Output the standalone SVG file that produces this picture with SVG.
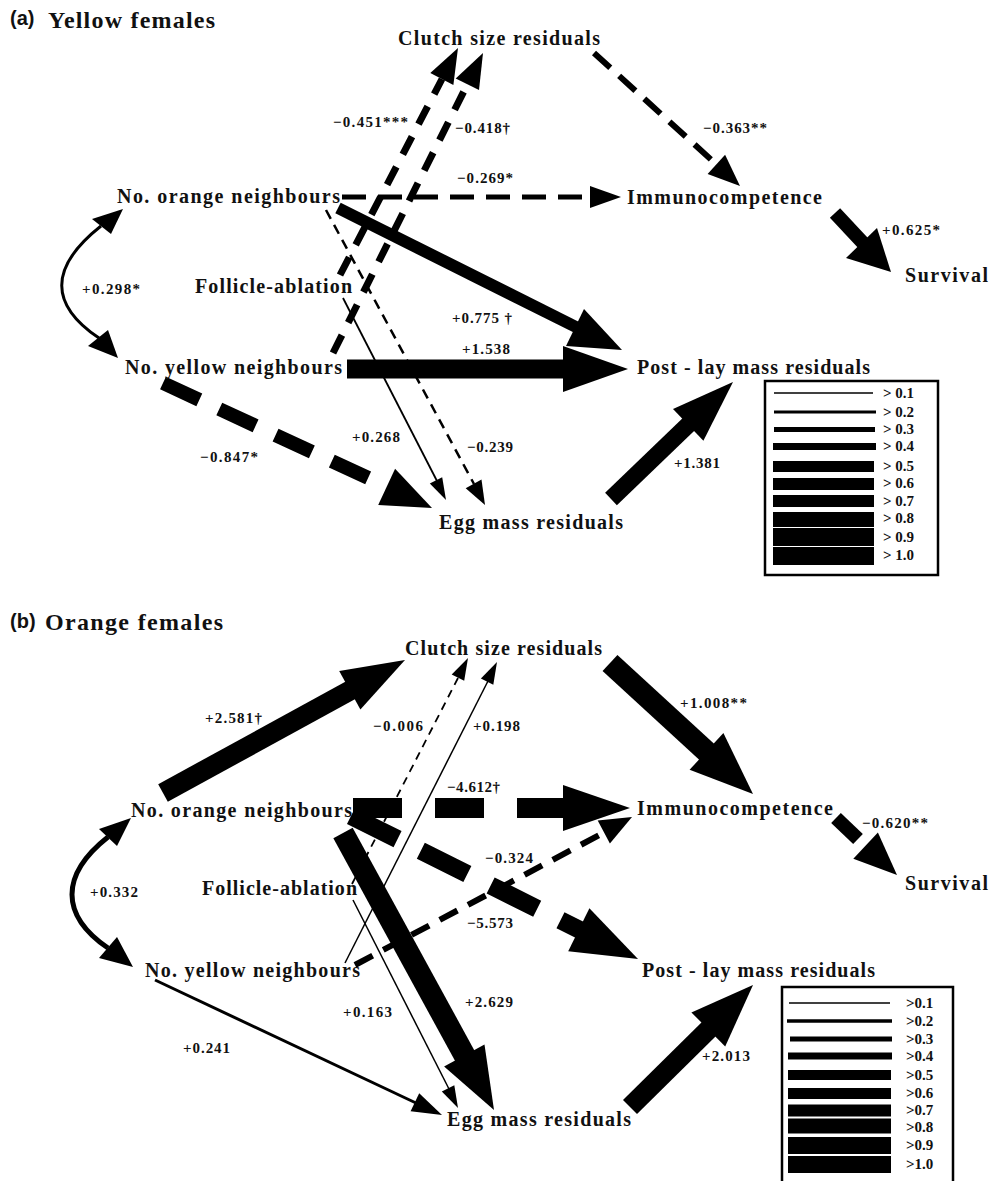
<svg xmlns="http://www.w3.org/2000/svg" width="990" height="1181" viewBox="0 0 990 1181">
<style>
  .node text { font-family: "Liberation Serif", "Times New Roman", serif; font-weight: bold; font-size: 20px; fill: #111; }
  .title { font-family: "Liberation Serif", serif; font-weight: bold; font-size: 24px; fill: #111; }
  .tag { font-family: "Liberation Sans", Arial, sans-serif; font-weight: bold; font-size: 20px; fill: #111; }
  .lbl { font-family: "Liberation Serif", serif; font-weight: bold; font-size: 15px; fill: #111; }
  .leg { font-family: "Liberation Serif", serif; font-weight: bold; font-size: 15px; fill: #111; }
  .ln { stroke: #000; fill: none; stroke-linecap: butt; }
  .hd { fill: #000; stroke: none; }
  .box { fill: #fff; stroke: #000; stroke-width: 2.5; }
</style>
<rect width="990" height="1181" fill="#fff"/>

<!-- Titles -->
<text class="tag" x="10" y="25">(a)</text>
<text class="title" x="48" y="28" textLength="167" lengthAdjust="spacing">Yellow females</text>
<text class="tag" x="10" y="628">(b)</text>
<text class="title" x="45" y="630" textLength="178" lengthAdjust="spacing">Orange females</text>

<!-- ===== Panel (a) connectors ===== -->
<g id="connectors-a">
  <path class="ln" d="M101,226 C 48,268 50,305 99,338" stroke-width="3"/>
  <polygon class="hd" points="123,209 92,219 111,234"/>
  <polygon class="hd" points="118,358 88,346 108,330"/>
  <line class="ln" x1="342" y1="197" x2="592" y2="197" stroke-width="5" stroke-dasharray="24 12"/>
  <polygon class="hd" points="621,197 590,186 590,208"/>
  <line class="ln" x1="338" y1="208" x2="580" y2="329" stroke-width="12"/>
  <polygon class="hd" points="622,350 566,346 584,309"/>
  <line class="ln" x1="347" y1="369" x2="566" y2="369" stroke-width="19"/>
  <polygon class="hd" points="628,369 563,346 563,392"/>
  <line class="ln" x1="163" y1="383" x2="388" y2="487" stroke-width="14" stroke-dasharray="40 22"/>
  <polygon class="hd" points="432,508 378.2,505.1 395.1,468.8"/>
  <line class="ln" x1="340" y1="275" x2="442" y2="79" stroke-width="7" stroke-dasharray="20 14"/>
  <polygon class="hd" points="458,48 453.4,85.1 430.3,73.1"/>
  <line class="ln" x1="333" y1="353" x2="467" y2="85" stroke-width="7" stroke-dasharray="20 14"/>
  <polygon class="hd" points="483,53 479,90.1 455.7,78.5"/>
  <line class="ln" x1="343" y1="298" x2="437" y2="481" stroke-width="1.8"/>
  <polygon class="hd" points="446,500 429.8,483.6 442.2,477.2"/>
  <line class="ln" x1="326" y1="210" x2="474" y2="484" stroke-width="2.5" stroke-dasharray="10 7"/>
  <polygon class="hd" points="485,505 465.7,488.2 481.5,479.6"/>
  <line class="ln" x1="594" y1="53" x2="717" y2="165" stroke-width="6" stroke-dasharray="22 12"/>
  <polygon class="hd" points="740,186 707.6,174.1 725.1,154.8"/>
  <line class="ln" x1="835" y1="213" x2="864" y2="244" stroke-width="14"/>
  <polygon class="hd" points="891,272 846,258 877,228"/>
  <line class="ln" x1="611" y1="499" x2="690" y2="423" stroke-width="17"/>
  <polygon class="hd" points="733,382 703.4,440.8 673,409"/>
</g>

<!-- ===== Panel (a) nodes ===== -->
<g id="a-clutch" class="node"><text x="398" y="45" textLength="202" lengthAdjust="spacing">Clutch size residuals</text></g>
<g id="a-orange" class="node"><text x="117" y="203" textLength="223" lengthAdjust="spacing">No. orange neighbours</text></g>
<g id="a-follicle" class="node"><text x="195" y="293" textLength="157" lengthAdjust="spacing">Follicle-ablation</text></g>
<g id="a-yellow" class="node"><text x="125" y="374" textLength="217" lengthAdjust="spacing">No. yellow neighbours</text></g>
<g id="a-immuno" class="node"><text x="627" y="204" textLength="195" lengthAdjust="spacing">Immunocompetence</text></g>
<g id="a-survival" class="node"><text x="905" y="282" textLength="83" lengthAdjust="spacing">Survival</text></g>
<g id="a-postlay" class="node"><text x="637" y="374" textLength="233" lengthAdjust="spacing">Post - lay mass residuals</text></g>
<g id="a-egg" class="node"><text x="439" y="529" textLength="184" lengthAdjust="spacing">Egg mass residuals</text></g>

<!-- Panel (a) labels -->
<g id="labels-a">
  <text class="lbl" x="333" y="127" textLength="75" lengthAdjust="spacing">−0.451***</text>
  <text class="lbl" x="455" y="133" textLength="55" lengthAdjust="spacing">−0.418†</text>
  <text class="lbl" x="457" y="183" textLength="56" lengthAdjust="spacing">−0.269*</text>
  <text class="lbl" x="703" y="133" textLength="64" lengthAdjust="spacing">−0.363**</text>
  <text class="lbl" x="882" y="235" textLength="58" lengthAdjust="spacing">+0.625*</text>
  <text class="lbl" x="82" y="294" textLength="58" lengthAdjust="spacing">+0.298*</text>
  <text class="lbl" x="452" y="323" textLength="60" lengthAdjust="spacing">+0.775 †</text>
  <text class="lbl" x="462" y="354" textLength="48" lengthAdjust="spacing">+1.538</text>
  <text class="lbl" x="352" y="442" textLength="48" lengthAdjust="spacing">+0.268</text>
  <text class="lbl" x="467" y="452" textLength="46" lengthAdjust="spacing">−0.239</text>
  <text class="lbl" x="200" y="462" textLength="58" lengthAdjust="spacing">−0.847*</text>
  <text class="lbl" x="674" y="468" textLength="46" lengthAdjust="spacing">+1.381</text>
</g>

<!-- Legend (a) -->
<g id="legend-a">
  <rect class="box" x="765" y="381" width="173" height="194"/>
  <g stroke="#000">
    <line x1="774" y1="393" x2="873" y2="393" stroke-width="1.5"/>
    <line x1="774" y1="412" x2="876" y2="412" stroke-width="3"/>
    <line x1="774" y1="429.5" x2="875" y2="429.5" stroke-width="5"/>
    <line x1="773" y1="446.5" x2="876" y2="446.5" stroke-width="7"/>
    <line x1="773" y1="466.5" x2="874" y2="466.5" stroke-width="11"/>
    <line x1="773" y1="484" x2="874" y2="484" stroke-width="12"/>
    <line x1="773" y1="501" x2="874" y2="501" stroke-width="12"/>
    <line x1="773" y1="519.5" x2="874" y2="519.5" stroke-width="15"/>
    <line x1="773" y1="537" x2="874" y2="537" stroke-width="18"/>
    <line x1="773" y1="556" x2="874" y2="556" stroke-width="18"/>
  </g>
  <text class="leg" x="883" y="398">&gt; 0.1</text>
  <text class="leg" x="883" y="417">&gt; 0.2</text>
  <text class="leg" x="883" y="434">&gt; 0.3</text>
  <text class="leg" x="883" y="451">&gt; 0.4</text>
  <text class="leg" x="883" y="471">&gt; 0.5</text>
  <text class="leg" x="883" y="488">&gt; 0.6</text>
  <text class="leg" x="883" y="506">&gt; 0.7</text>
  <text class="leg" x="883" y="523">&gt; 0.8</text>
  <text class="leg" x="883" y="542">&gt; 0.9</text>
  <text class="leg" x="883" y="560">&gt; 1.0</text>
</g>

<!-- ===== Panel (b) connectors ===== -->
<g id="connectors-b">
  <path class="ln" d="M108,837 C 60,875 60,915 108,948" stroke-width="5"/>
  <polygon class="hd" points="131,818 99,829 117,846"/>
  <polygon class="hd" points="133,967 99,958 117,937"/>
  <line class="ln" x1="163" y1="793" x2="351" y2="690" stroke-width="20"/>
  <polygon class="hd" points="405,660 360.4,709.6 339.2,671.1"/>
  <line class="ln" x1="352" y1="884" x2="458" y2="678" stroke-width="1.8" stroke-dasharray="8 6"/>
  <polygon class="hd" points="468,658 464.2,680.8 451.7,674.4"/>
  <line class="ln" x1="345" y1="963" x2="488" y2="681" stroke-width="1.5"/>
  <polygon class="hd" points="497,662 493.3,684.8 480.9,678.4"/>
  <line class="ln" x1="351" y1="816" x2="580" y2="930" stroke-width="18" stroke-dasharray="52 26"/>
  <polygon class="hd" points="638,959 568.2,951.3 589.4,908.3"/>
  <line class="ln" x1="343" y1="833" x2="466" y2="1058" stroke-width="22"/>
  <polygon class="hd" points="494,1110 444.1,1066.6 484.5,1044.6"/>
  <line class="ln" x1="353" y1="808" x2="564" y2="808" stroke-width="20" stroke-dasharray="49 33"/>
  <polygon class="hd" points="630,808 563,785 563,831"/>
  <line class="ln" x1="355" y1="965" x2="605" y2="832" stroke-width="6" stroke-dasharray="20 12"/>
  <polygon class="hd" points="632,817 609.9,843.6 597.7,820.6"/>
  <line class="ln" x1="353" y1="900" x2="449" y2="1089" stroke-width="1.5"/>
  <polygon class="hd" points="458,1108 441.8,1091.6 454.3,1085.2"/>
  <line class="ln" x1="155" y1="980" x2="416" y2="1103" stroke-width="3"/>
  <polygon class="hd" points="442,1115 410.6,1111.2 419.2,1093.2"/>
  <line class="ln" x1="610" y1="663" x2="708" y2="753" stroke-width="22"/>
  <polygon class="hd" points="753,794 689.6,769.8 723.4,733"/>
  <line class="ln" x1="836" y1="818" x2="858" y2="839" stroke-width="14"/>
  <polygon class="hd" points="897,875 853.3,858.8 877.9,832.5"/>
  <line class="ln" x1="630" y1="1107" x2="710" y2="1028" stroke-width="20"/>
  <polygon class="hd" points="753,985 725.2,1046.4 691.4,1012.4"/>
</g>

<!-- ===== Panel (b) nodes ===== -->
<g id="b-clutch" class="node"><text x="405" y="655" textLength="197" lengthAdjust="spacing">Clutch size residuals</text></g>
<g id="b-orange" class="node"><text x="131" y="817" textLength="221" lengthAdjust="spacing">No. orange neighbours</text></g>
<g id="b-immuno" class="node"><text x="637" y="815" textLength="196" lengthAdjust="spacing">Immunocompetence</text></g>
<g id="b-survival" class="node"><text x="905" y="890" textLength="83" lengthAdjust="spacing">Survival</text></g>
<g id="b-follicle" class="node"><text x="202" y="895" textLength="155" lengthAdjust="spacing">Follicle-ablation</text></g>
<g id="b-yellow" class="node"><text x="145" y="977" textLength="215" lengthAdjust="spacing">No. yellow neighbours</text></g>
<g id="b-postlay" class="node"><text x="642" y="977" textLength="233" lengthAdjust="spacing">Post - lay mass residuals</text></g>
<g id="b-egg" class="node"><text x="447" y="1126" textLength="184" lengthAdjust="spacing">Egg mass residuals</text></g>

<!-- Panel (b) labels -->
<g id="labels-b">
  <text class="lbl" x="205" y="723" textLength="57" lengthAdjust="spacing">+2.581†</text>
  <text class="lbl" x="373" y="731" textLength="50" lengthAdjust="spacing">−0.006</text>
  <text class="lbl" x="473" y="731" textLength="47" lengthAdjust="spacing">+0.198</text>
  <text class="lbl" x="680" y="708" textLength="67" lengthAdjust="spacing">+1.008**</text>
  <text class="lbl" x="447" y="792" textLength="53" lengthAdjust="spacing">−4.612†</text>
  <text class="lbl" x="862" y="828" textLength="66" lengthAdjust="spacing">−0.620**</text>
  <text class="lbl" x="485" y="863" textLength="48" lengthAdjust="spacing">−0.324</text>
  <text class="lbl" x="90" y="897" textLength="48" lengthAdjust="spacing">+0.332</text>
  <text class="lbl" x="467" y="928" textLength="46" lengthAdjust="spacing">−5.573</text>
  <text class="lbl" x="465" y="1007" textLength="48" lengthAdjust="spacing">+2.629</text>
  <text class="lbl" x="343" y="1017" textLength="49" lengthAdjust="spacing">+0.163</text>
  <text class="lbl" x="183" y="1053" textLength="47" lengthAdjust="spacing">+0.241</text>
  <text class="lbl" x="702" y="1061" textLength="48" lengthAdjust="spacing">+2.013</text>
</g>

<!-- Legend (b) -->
<g id="legend-b">
  <rect class="box" x="782" y="987" width="171" height="200"/>
  <g stroke="#000">
    <line x1="789" y1="1003" x2="890" y2="1003" stroke-width="1.5"/>
    <line x1="787" y1="1021" x2="892" y2="1021" stroke-width="3.5"/>
    <line x1="790" y1="1039" x2="892" y2="1039" stroke-width="5"/>
    <line x1="788" y1="1056" x2="892" y2="1056" stroke-width="7"/>
    <line x1="788" y1="1075" x2="891" y2="1075" stroke-width="10"/>
    <line x1="788" y1="1093.5" x2="891" y2="1093.5" stroke-width="11"/>
    <line x1="788" y1="1110.5" x2="891" y2="1110.5" stroke-width="12"/>
    <line x1="788" y1="1126" x2="891" y2="1126" stroke-width="15"/>
    <line x1="788" y1="1145.5" x2="891" y2="1145.5" stroke-width="17"/>
    <line x1="788" y1="1164.5" x2="891" y2="1164.5" stroke-width="17"/>
  </g>
  <text class="leg" x="906" y="1008">&gt;0.1</text>
  <text class="leg" x="906" y="1026">&gt;0.2</text>
  <text class="leg" x="906" y="1044">&gt;0.3</text>
  <text class="leg" x="906" y="1061">&gt;0.4</text>
  <text class="leg" x="906" y="1080">&gt;0.5</text>
  <text class="leg" x="906" y="1098">&gt;0.6</text>
  <text class="leg" x="906" y="1115">&gt;0.7</text>
  <text class="leg" x="906" y="1132">&gt;0.8</text>
  <text class="leg" x="906" y="1150">&gt;0.9</text>
  <text class="leg" x="906" y="1169">&gt;1.0</text>
</g>
</svg>
